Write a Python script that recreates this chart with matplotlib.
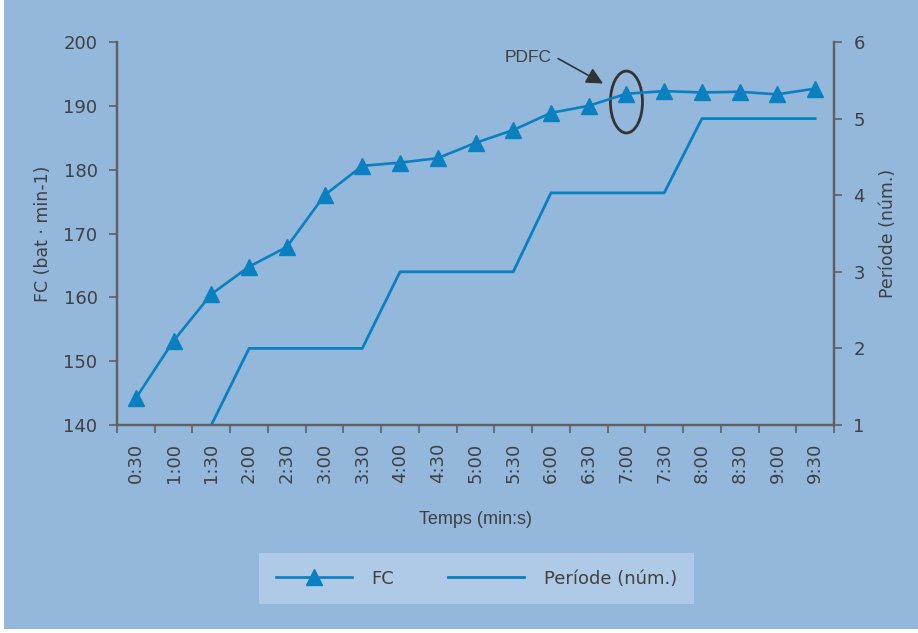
import numpy as np
import matplotlib.pyplot as plt
from matplotlib.patches import Ellipse, Rectangle

temps = ['0:30', '1:00', '1:30', '2:00', '2:30', '3:00', '3:30', '4:00', '4:30', '5:00',
         '5:30', '6:00', '6:30', '7:00', '7:30', '8:00', '8:30', '9:00', '9:30']
fc = [144.2, 153.2, 160.5, 164.8, 167.9, 176.0, 180.6, 181.1, 181.8, 184.2,
      186.2, 188.9, 190.0, 191.9, 192.3, 192.1, 192.2, 191.8, 192.7]
periode = [np.nan, np.nan, 1, 2, 2, 2, 2, 3, 3, 3,
           3, 4.03, 4.03, 4.03, 4.03, 5, 5, 5, 5]

bg = '#93b8dc'
blue = '#0a80c0'
grey = '#606060'
txt = '#404040'
narrow = ['DejaVu Sans Condensed', 'Liberation Sans Narrow', 'Liberation Sans']

plt.rcParams['font.family'] = ['DejaVu Sans']

fig = plt.figure(figsize=(9.18, 6.33), dpi=100, facecolor='white')
fig.patches.append(Rectangle((4 / 918, 4 / 633), 1, 1, transform=fig.transFigure,
                             facecolor=bg, edgecolor='none', zorder=-10))

ax = fig.add_axes([117 / 918, 1 - 425 / 633, (834 - 117) / 918, (425 - 42) / 633])
ax.set_facecolor(bg)
ax2 = ax.twinx()

x = np.arange(len(temps))
l1, = ax.plot(x, fc, color=blue, lw=1.9, marker='^', markersize=11,
              markeredgecolor=blue, label='FC', clip_on=False)
l2, = ax2.plot(x, periode, color=blue, lw=2.0, label='Període (núm.)')

ax.set_xlim(-0.5, len(temps) - 0.5)
ax.set_ylim(140, 200)
ax.set_yticks(range(140, 201, 10))
ax2.set_ylim(1, 6)
ax2.set_yticks(range(1, 7))

ax.set_xticks(x)
ax.set_xticklabels(temps, rotation=90, fontsize=13, color=txt)
ax.set_xticks(np.arange(-0.5, len(temps), 1), minor=True)
ax.tick_params(axis='x', which='major', length=0, pad=13)
ax.tick_params(axis='x', which='minor', length=6, color=grey, width=1.2)
ax.tick_params(axis='y', length=6, color=grey, width=1.2, labelsize=13,
               labelcolor=txt, pad=8)
ax2.tick_params(axis='y', length=6, color=grey, width=1.2, labelsize=13,
                labelcolor=txt, pad=8)

for a in (ax, ax2):
    a.spines['top'].set_visible(False)
    for s in ('left', 'right', 'bottom'):
        a.spines[s].set_color(grey)
        a.spines[s].set_linewidth(1.6)

ax.set_ylabel('FC (bat · min-1)', fontsize=12.5, color=txt, labelpad=8)
ax2.set_ylabel('Període (núm.)', fontsize=12.5, color=txt, labelpad=10)
ax.set_xlabel('Temps (min:s)', fontsize=13, color=txt, labelpad=20,
              family=narrow)

# PDFC annotation
ax.add_patch(Ellipse((13, 190.6), 0.85, 9.7, fill=False, edgecolor='#333333', lw=2))
ax.annotate('', xy=(12.38, 193.5), xytext=(11.19, 197.4),
            arrowprops=dict(arrowstyle='-|>,head_length=1.0,head_width=0.5',
                            color='#333333', lw=1.2, shrinkA=0, shrinkB=0))
ax.text(11.03, 197.6, 'PDFC', ha='right', va='center', fontsize=12.5, color=txt,
        family=narrow)

leg = fig.legend([l1, l2], ['FC', 'Període (núm.)'], loc='center',
                 bbox_to_anchor=(476.5 / 918, 1 - 578.5 / 633), ncol=2,
                 fontsize=13, frameon=True, fancybox=False, handlelength=4.2,
                 columnspacing=3.0, borderpad=0.9, handletextpad=1.1)
leg.get_frame().set_facecolor('#afcae6')
leg.get_frame().set_edgecolor('none')
leg.get_frame().set_alpha(1)
for t in leg.get_texts():
    t.set_color(txt)

fig.savefig('out.png', dpi=100, facecolor=fig.get_facecolor())
